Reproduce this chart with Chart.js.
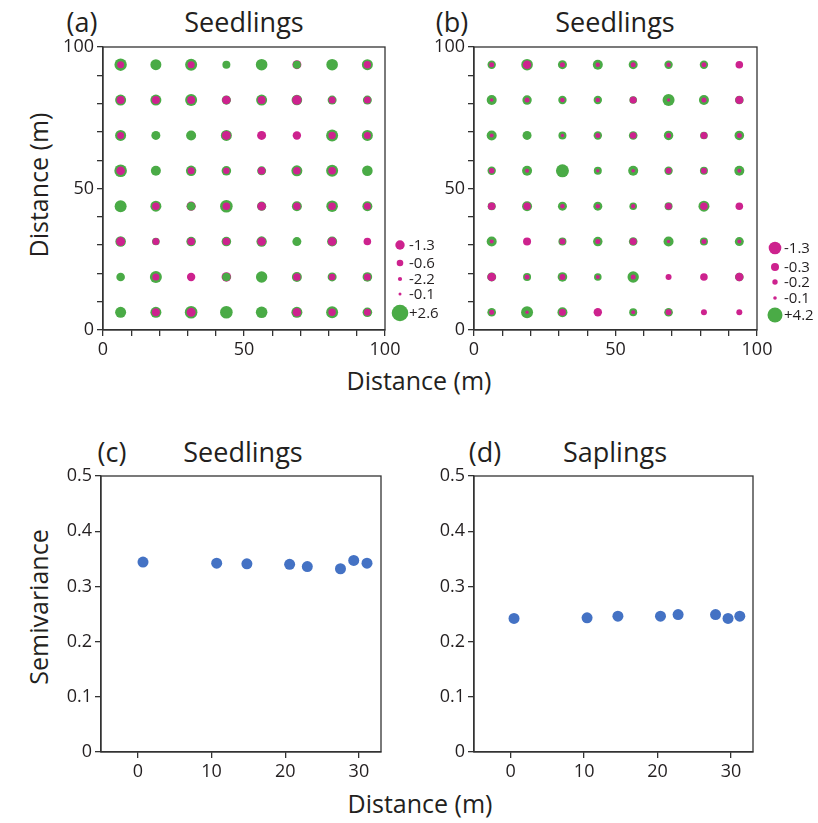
<!DOCTYPE html>
<html><head><meta charset="utf-8">
<script src="https://cdn.jsdelivr.net/npm/chart.js@4"></script>
<style>
body{margin:0;background:#fff;width:818px;height:823px;position:relative;overflow:hidden;font-family:"Open Sans",sans-serif;color:#231f20}
.box{position:absolute}
.t{position:absolute;white-space:nowrap;transform:translate(-50%,-50%);line-height:1;font-family:"Open Sans",sans-serif;color:#231f20}
.big{font-size:27px}
.ax{font-size:25px}
.rot{transform:translate(-50%,-50%) rotate(-90deg)}
</style></head><body>

<div class="t big" style="left:82px;top:21px">(a)</div>
<div class="t big" style="left:244px;top:21px">Seedlings</div>
<div class="t big" style="left:452px;top:21px">(b)</div>
<div class="t big" style="left:615px;top:21px">Seedlings</div>
<div class="t ax rot" style="left:38px;top:185px">Distance (m)</div>
<div class="t ax" style="left:419px;top:380px">Distance (m)</div>

<div class="t big" style="left:112px;top:451px">(c)</div>
<div class="t big" style="left:243px;top:451px">Seedlings</div>
<div class="t big" style="left:485px;top:451px">(d)</div>
<div class="t big" style="left:615px;top:451px">Saplings</div>
<div class="t ax rot" style="left:38px;top:607px">Semivariance</div>
<div class="t ax" style="left:420px;top:803px">Distance (m)</div>

<div class="box" style="left:40px;top:30px"><canvas id="ca" width="410" height="330"></canvas></div>
<div class="box" style="left:413px;top:30px"><canvas id="cb" width="405" height="330"></canvas></div>
<div class="box" style="left:40px;top:460px"><canvas id="cc" width="360" height="320"></canvas></div>
<div class="box" style="left:413px;top:460px"><canvas id="cd" width="360" height="320"></canvas></div>

<script>
// ---------- data ----------
const gridPos = [6.25, 18.75, 31.25, 43.75, 56.25, 68.75, 81.25, 93.75];
// rows listed from top (y = 93.75) to bottom (y = 6.25); 0 = no circle
const seedlingsA_green = [
  [6.2, 5.5, 6.0, 4.0, 5.8, 4.0, 5.8, 5.5],
  [5.5, 5.5, 6.0, 4.6, 5.5, 5.3, 4.5, 4.5],
  [5.5, 4.5, 5.0, 5.5, 0,   0,   6.0, 5.5],
  [6.3, 5.0, 5.2, 4.8, 4.5, 5.5, 6.0, 5.3],
  [6.0, 5.5, 4.3, 6.3, 4.6, 5.0, 5.8, 5.0],
  [5.3, 3.8, 4.8, 4.8, 5.2, 4.5, 5.0, 0],
  [4.3, 6.0, 0,   4.3, 5.7, 5.0, 4.5, 4.8],
  [5.5, 5.5, 6.3, 6.3, 5.8, 5.5, 6.0, 4.8]
];
const seedlingsA_magenta = [
  [3.5, 0,   3.5, 0,   0,   4.5, 0,   3.7],
  [4.0, 4.0, 4.0, 4.3, 4.0, 4.8, 3.5, 3.5],
  [3.5, 0,   0,   4.5, 4.5, 4.2, 3.7, 3.5],
  [4.3, 0,   3.5, 3.2, 3.8, 3.8, 3.8, 0],
  [0,   3.8, 4.6, 3.8, 4.3, 3.8, 3.8, 3.5],
  [4.5, 3.5, 3.8, 3.8, 4.3, 0,   4.3, 3.8],
  [0,   3.5, 4.2, 4.8, 0,   3.8, 3.3, 3.5],
  [0,   4.0, 4.5, 0,   0,   4.3, 3.7, 3.5]
];
const seedlingsB_green = [
  [4.2, 5.8, 4.5, 5.0, 4.5, 4.2, 4.2, 0],
  [5.0, 4.7, 4.2, 4.2, 3.8, 6.0, 5.0, 4.3],
  [5.0, 4.5, 4.0, 4.2, 4.3, 4.7, 3.8, 4.8],
  [4.2, 5.0, 6.5, 4.0, 5.0, 4.2, 4.0, 5.0],
  [4.0, 5.0, 4.5, 4.5, 3.8, 4.0, 5.5, 0],
  [5.0, 0,   4.0, 4.7, 4.3, 5.0, 4.0, 4.5],
  [4.5, 4.0, 4.8, 3.8, 5.7, 0,   0,   4.3],
  [4.3, 6.0, 5.0, 0,   4.0, 4.3, 0,   0]
];
const seedlingsB_magenta = [
  [2.5, 4.3, 2.5, 2.2, 2.5, 2.2, 2.5, 3.8],
  [1.8, 2.5, 2.3, 2.3, 3.5, 1.7, 2.5, 4.0],
  [2.0, 0,   1.7, 2.5, 3.3, 2.5, 3.5, 2.5],
  [2.8, 2.0, 0,   1.7, 1.8, 3.0, 3.0, 2.0],
  [3.8, 3.8, 2.3, 2.2, 2.2, 3.3, 3.8, 3.8],
  [2.0, 4.0, 3.0, 2.5, 3.5, 1.7, 2.5, 2.0],
  [4.3, 2.5, 3.0, 2.0, 2.5, 3.0, 3.8, 4.2],
  [2.5, 1.7, 3.5, 4.2, 2.0, 3.0, 3.0, 3.0]
];
const legendA_labels = ['-1.3', '-0.6', '-2.2', '-0.1', '+2.6'];
const legendB_labels = ['-1.3', '-0.3', '-0.2', '-0.1', '+4.2'];

const lagSeedlings = [0.7, 10.7, 14.8, 20.6, 23.0, 27.5, 29.3, 31.1];
const semivarSeedlings = [0.344, 0.342, 0.341, 0.340, 0.336, 0.332, 0.347, 0.342];
const lagSaplings = [0.45, 10.4, 14.6, 20.4, 22.8, 27.9, 29.6, 31.2];
const semivarSaplings = [0.242, 0.243, 0.246, 0.246, 0.249, 0.249, 0.242, 0.246];

const gridTicks = [0, 50, 100];
const semiYTicks = [0, 0.1, 0.2, 0.3, 0.4, 0.5];
const lagTicks = [0, 10, 20, 30];

// ---------- styling ----------
const GREEN = '#4aab46', MAG = '#cd228e', BLUE = '#4472c4', INK = '#231f20', AXIS = '#333333';
const FONT = '"Open Sans", sans-serif';
const BUBBLE_SCALE = 1;

const framePlugin = {
  id: 'frame',
  afterDatasetsDraw(chart) {
    const {ctx, chartArea: a} = chart;
    ctx.save();
    ctx.strokeStyle = AXIS; ctx.lineWidth = 1.3;
    ctx.strokeRect(a.left, a.top, a.width, a.height);
    ctx.restore();
  }
};

const sizeLegend = {
  id: 'sizeLegend',
  afterDraw(chart, args, opts) {
    if (!opts || !opts.labels) return;
    const {ctx, chartArea: a} = chart;
    ctx.save();
    ctx.font = '15px ' + FONT;
    ctx.textBaseline = 'middle';
    opts.labels.forEach((lab, i) => {
      const s = opts.symbols[i];
      const cx = a.right + opts.dx, cy = a.top + s.dy;
      ctx.beginPath(); ctx.arc(cx, cy, s.r, 0, Math.PI * 2);
      ctx.fillStyle = s.c; ctx.fill();
      ctx.fillStyle = INK;
      ctx.fillText(lab, cx + opts.tx, cy + 1);
    });
    ctx.restore();
  }
};

function bubbleSets(green, magenta) {
  const g = [], front = [], back = [];
  for (let i = 0; i < 8; i++) {
    for (let j = 0; j < 8; j++) {
      const x = gridPos[j], y = gridPos[7 - i];
      const gv = green[i][j], mv = magenta[i][j];
      if (gv > 0) g.push({x, y, r: gv * BUBBLE_SCALE});
      if (mv > 0) (mv <= gv ? front : back).push({x, y, r: mv * BUBBLE_SCALE});
    }
  }
  const base = {borderWidth: 0, hoverRadius: 0, hoverBorderWidth: 0};
  return [
    Object.assign({data: front, backgroundColor: MAG, order: 0}, base),
    Object.assign({data: g, backgroundColor: GREEN, order: 1}, base),
    Object.assign({data: back, backgroundColor: MAG, order: 2}, base)
  ];
}

function axis(min, max, labelled, opts) {
  return {
    type: 'linear', min, max,
    afterBuildTicks: opts.all ? (s => { s.ticks = opts.all.map(v => ({value: v})); }) : undefined,
    ticks: {
      autoSkip: false, maxRotation: 0, padding: 3,
      color: INK, font: {family: FONT, size: 18},
      callback: v => labelled.some(t => Math.abs(t - v) < 1e-9) ? String(Math.round(v * 10) / 10) : ''
    },
    grid: {drawOnChartArea: false, drawTicks: true, tickLength: 6, color: AXIS, lineWidth: 1.3},
    border: {display: true, color: AXIS, width: 1.3},
    afterFit: opts.fit
  };
}

const tenSteps = [0,10,20,30,40,50,60,70,80,90,100];

function gridChart(id, green, magenta, legendLabels, symbols, rightPad) {
  new Chart(document.getElementById(id), {
    type: 'bubble',
    data: {datasets: bubbleSets(green, magenta)},
    options: {
      responsive: false, animation: false, devicePixelRatio: 1,
      layout: {padding: {top: 17, right: rightPad, left: 0, bottom: 0}},
      plugins: {legend: {display: false}, tooltip: {enabled: false},
        sizeLegend: {labels: legendLabels, symbols, dx: symbols.dx, tx: symbols.tx}},
      scales: {
        x: axis(0, 100, gridTicks, {all: tenSteps, fit: s => { s.height = 30; }}),
        y: axis(0, 100, gridTicks, {all: tenSteps, fit: s => { s.width = id === 'ca' ? 63 : 61; }})
      }
    },
    plugins: [framePlugin, sizeLegend]
  });
}

const symA = [
  {dy: 198, r: 4.7, c: MAG}, {dy: 216, r: 3.3, c: MAG}, {dy: 232, r: 2.1, c: MAG},
  {dy: 247, r: 1.5, c: MAG}, {dy: 266, r: 8.3, c: GREEN}
];
symA.dx = 15; symA.tx = 9;
const symB = [
  {dy: 201, r: 6.3, c: MAG}, {dy: 220, r: 4.0, c: MAG}, {dy: 235, r: 2.7, c: MAG},
  {dy: 251, r: 1.8, c: MAG}, {dy: 268, r: 7.5, c: GREEN}
];
symB.dx = 18; symB.tx = 9;

gridChart('ca', seedlingsA_green, seedlingsA_magenta, legendA_labels, symA, 65);
gridChart('cb', seedlingsB_green, seedlingsB_magenta, legendB_labels, symB, 61);

function semiChart(id, lags, vals, rightPad) {
  new Chart(document.getElementById(id), {
    type: 'scatter',
    data: {datasets: [{data: lags.map((x, i) => ({x, y: vals[i]})), backgroundColor: BLUE,
      borderWidth: 0, pointRadius: 5.5, pointHoverRadius: 5.5}]},
    options: {
      responsive: false, animation: false, devicePixelRatio: 1,
      layout: {padding: {top: 16, right: rightPad, left: 0, bottom: 0}},
      plugins: {legend: {display: false}, tooltip: {enabled: false}},
      scales: {
        x: axis(-5, 33, lagTicks, {all: lagTicks, fit: s => { s.height = 28; }}),
        y: axis(0, 0.5, semiYTicks, {all: semiYTicks, fit: s => { s.width = 61; }})
      }
    },
    plugins: [framePlugin]
  });
}
semiChart('cc', lagSeedlings, semivarSeedlings, 19);
semiChart('cd', lagSaplings, semivarSaplings, 20);
</script>
</body></html>
